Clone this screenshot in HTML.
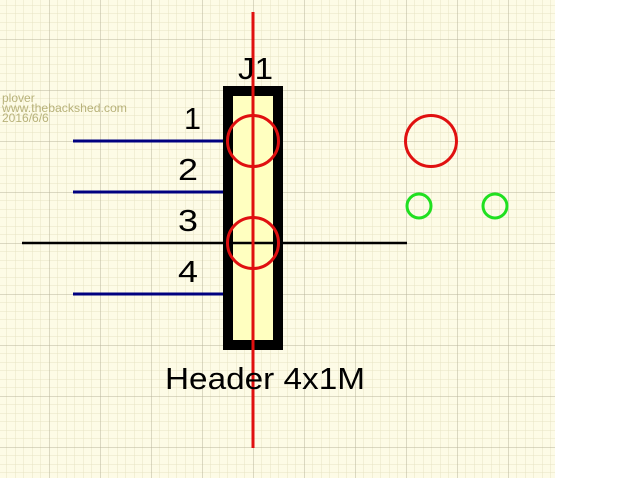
<!DOCTYPE html><html><head><style>body{margin:0;width:640px;height:478px;overflow:hidden;background:#fff}</style></head><body>
<svg width="640" height="478" xmlns="http://www.w3.org/2000/svg" font-family="Liberation Sans, sans-serif">
<defs>
<pattern id="f" x="100" y="39" width="8.5" height="8.5" patternUnits="userSpaceOnUse"><path d="M0 0H8.5M0 0V8.5" stroke="#e6e3c4" stroke-width="1" fill="none"/></pattern>
<pattern id="m" x="100" y="39" width="51" height="51" patternUnits="userSpaceOnUse"><path d="M0 0H51M0 0V51" stroke="#b9b59c" stroke-width="1" fill="none"/></pattern>
</defs>
<rect x="0" y="0" width="555" height="478" fill="#fdfbe6"/>
<rect x="0" y="0" width="555" height="478" fill="url(#f)"/>
<rect x="0" y="0" width="555" height="478" fill="url(#m)"/>
<text x="2" y="102" font-size="12" fill="#b8b27a">plover</text>
<text x="2" y="112" font-size="12" fill="#b8b27a" textLength="125" lengthAdjust="spacingAndGlyphs">www.thebackshed.com</text>
<text x="2" y="122" font-size="12" fill="#b8b27a">2016/6/6</text>
<g stroke="#000080" stroke-width="3"><line x1="73" y1="141" x2="228" y2="141"/><line x1="73" y1="192" x2="228" y2="192"/><line x1="73" y1="294" x2="228" y2="294"/></g>
<rect x="228" y="91" width="50" height="254" fill="#ffffc0" stroke="#000" stroke-width="10"/>
<line x1="22" y1="243" x2="407" y2="243" stroke="#000" stroke-width="2.5"/>
<line x1="253" y1="12" x2="253" y2="448" stroke="#e01010" stroke-width="3"/>
<g fill="none" stroke="#e01010" stroke-width="3"><circle cx="253" cy="141" r="25.5"/><circle cx="253" cy="243" r="25.5"/><circle cx="431" cy="141" r="25.5"/></g>
<g fill="none" stroke="#20e020" stroke-width="3"><circle cx="419" cy="206" r="12"/><circle cx="495" cy="206" r="12"/></g>
<g font-size="31" fill="#000"><text x="238" y="79" textLength="35" lengthAdjust="spacingAndGlyphs">J1</text>
<text x="184" y="129" textLength="17" lengthAdjust="spacingAndGlyphs">1</text><text x="178" y="180" textLength="20" lengthAdjust="spacingAndGlyphs">2</text><text x="178" y="231" textLength="20" lengthAdjust="spacingAndGlyphs">3</text><text x="178" y="282" textLength="20" lengthAdjust="spacingAndGlyphs">4</text>
<text x="165" y="389" textLength="200" lengthAdjust="spacingAndGlyphs">Header 4x1M</text></g>
</svg></body></html>
